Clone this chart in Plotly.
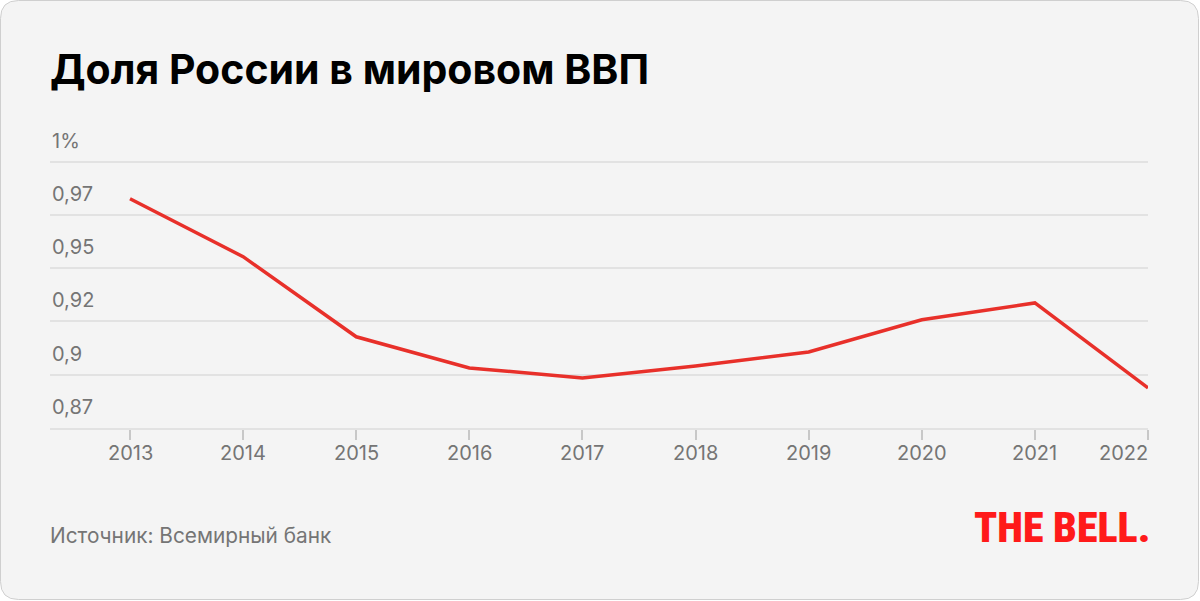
import plotly.graph_objects as go

years = [2013, 2014, 2015, 2016, 2017, 2018, 2019, 2020, 2021, 2022]
share = [0.9826, 0.9554, 0.9178, 0.9032, 0.8985, 0.9041, 0.9107, 0.9258, 0.9337, 0.8938]

y_ticks = [0.875, 0.9, 0.925, 0.95, 0.975, 1.0]
y_labels = ["0,87", "0,9", "0,92", "0,95", "0,97", "1%"]

W, H = 1200, 601
L, R, T, B = 50, 52, 151, 173
PW, PH = W - L - R, H - T - B

GRAY = "#757575"
GRID = "#e2e2e2"
RED = "#e8302a"
FONT = "Inter, Roboto, sans-serif"


def px(x):
    return (x - L) / PW


def py(y):
    return (H - B - y) / PH


fig = go.Figure()

fig.add_trace(go.Scatter(
    x=years, y=share,
    mode="lines",
    line=dict(color=RED, width=3.5),
    hoverinfo="skip",
    showlegend=False,
))

# y labels sit above their gridlines
annotations = []
for v, t in zip(y_ticks, y_labels):
    annotations.append(dict(
        x=0, xref="paper", y=v, yref="y", text=t,
        xanchor="left", yanchor="middle", yshift=21, showarrow=False,
        font=dict(family=FONT, size=20, color=GRAY),
    ))

# x labels, last one pulled inside
for i, yr in enumerate(years):
    last = i == len(years) - 1
    annotations.append(dict(
        x=yr, xref="x", y=0, yref="paper", text=str(yr),
        xanchor="right" if last else "center", yanchor="middle",
        xshift=2 if last else 0, yshift=-25, showarrow=False,
        font=dict(family=FONT, size=20, color=GRAY),
    ))

annotations += [
    dict(x=px(48), y=py(69), xref="paper", yref="paper",
         text="<b>Доля России в мировом ВВП</b>", showarrow=False,
         xanchor="left", yanchor="middle",
         font=dict(family=FONT, size=41, color="#000")),
    dict(x=px(48), y=py(535), xref="paper", yref="paper",
         text="Источник: Всемирный банк", showarrow=False,
         xanchor="left", yanchor="middle",
         font=dict(family=FONT, size=20.8, color=GRAY)),
    dict(x=px(1152), y=py(527), xref="paper", yref="paper",
         text="THE BELL.", showarrow=False,
         xanchor="right", yanchor="middle",
         font=dict(family="Roboto Condensed, DejaVu Sans Condensed, Roboto, sans-serif",
                   size=42, color="#ff1a1a", weight=900)),
]

# rounded card background
x0, x1, y0, y1, r = px(0.5), px(W - 1.5), py(0.5), py(H - 1.5), 18
rx, ry = r / PW, r / PH
card = (
    f"M {x0 + rx},{y0} L {x1 - rx},{y0} Q {x1},{y0} {x1},{y0 - ry} "
    f"L {x1},{y1 + ry} Q {x1},{y1} {x1 - rx},{y1} "
    f"L {x0 + rx},{y1} Q {x0},{y1} {x0},{y1 + ry} "
    f"L {x0},{y0 - ry} Q {x0},{y0} {x0 + rx},{y0} Z"
)

fig.update_layout(
    width=W, height=H,
    margin=dict(l=L, r=R, t=T, b=B),
    paper_bgcolor="white",
    plot_bgcolor="rgba(0,0,0,0)",
    annotations=annotations,
    shapes=[dict(type="path", path=card, xref="paper", yref="paper",
                 fillcolor="#f4f4f4", line=dict(color="#cfcfcf", width=1),
                 layer="below")],
    xaxis=dict(
        range=[2013 - 80 / 113.1, 2022],
        tickvals=years, showticklabels=False,
        ticks="outside", ticklen=10, tickwidth=2, tickcolor="#c8c8c8",
        showgrid=False, zeroline=False,
        showline=True, linecolor=GRID, linewidth=1.5,
        fixedrange=True,
    ),
    yaxis=dict(
        range=[0.875, 1.005],
        tickvals=y_ticks, showticklabels=False,
        showgrid=True, gridcolor=GRID, gridwidth=1.5,
        zeroline=False, fixedrange=True,
    ),
)

fig.write_html("out.html", config={"displayModeBar": False},
               post_script="document.body.style.margin='0';")
